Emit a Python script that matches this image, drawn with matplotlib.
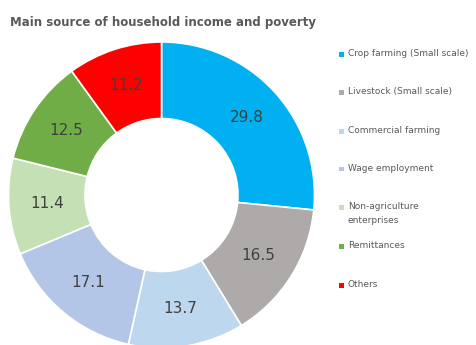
import matplotlib.pyplot as plt
from matplotlib.patches import Rectangle
import numpy as np

# data
labels = ["Crop farming (Small scale)", "Livestock (Small scale)", "Commercial farming",
          "Wage employment", "Non-agriculture\nenterprises", "Remittances", "Others"]
values = [29.8, 16.5, 13.7, 17.1, 11.4, 12.5, 11.2]
colors = ["#00B0F0", "#AEAAAA", "#BDD7EE", "#B4C6E7", "#C5E0B4", "#70AD47", "#FF0000"]

W, H = 476, 345
fig = plt.figure(figsize=(W / 100, H / 100), dpi=100)
# pie centre ~ (161, 195) px, radius ~153 px
ax = fig.add_axes([8.5 / W, 1 - 348 / H, 306 / W, 306 / H])

wedges, _ = ax.pie(values, colors=colors, startangle=90, counterclock=False,
                   wedgeprops=dict(width=0.5, edgecolor="white", linewidth=1.2))

# value labels in the middle of the ring
total = sum(values)
ang = 90.0
for v in values:
    mid = ang - v / total * 360 / 2
    ang -= v / total * 360
    x = 0.75 * np.cos(np.radians(mid))
    y = 0.75 * np.sin(np.radians(mid))
    ax.text(x, y, f"{v}", ha="center", va="center", fontsize=11, color="#404040")
ax.set_xlim(-1.0, 1.0)
ax.set_ylim(-1.0, 1.0)
ax.set_aspect("equal")

fig.text(10 / W, 1 - 26 / H, "Main source of household income and poverty", fontsize=8.5,
         fontweight="bold", color="#595959")

# legend drawn by hand (rows in pixels from top)
rows = [54, 92, 131, 169, 207, 246, 285]
for lab, c, yp in zip(labels, colors, rows):
    fig.patches.append(Rectangle((339 / W, 1 - (yp + 2.5) / H), 5 / W, 5 / H,
                                 facecolor=c, edgecolor="none",
                                 transform=fig.transFigure, figure=fig))
    fig.text(348 / W, 1 - (yp - 5) / H, lab, fontsize=6.5, color="#595959",
             va="top", ha="left", linespacing=1.7)

fig.savefig("out.png", dpi=100)
